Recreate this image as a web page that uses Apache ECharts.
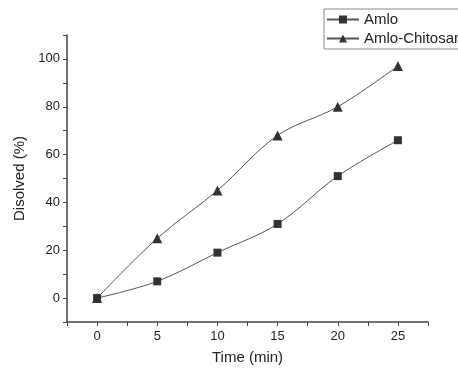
<!DOCTYPE html>
<html>
<head>
<meta charset="utf-8">
<script src="https://cdn.jsdelivr.net/npm/echarts@6/dist/echarts.min.js"></script>
<style>
  html, body { margin: 0; padding: 0; background: #fff; overflow: hidden; }
  /* chart is wider than the window so the legend gets cut at the edge like the original */
  #chart { width: 540px; height: 370px; }
</style>
</head>
<body>
<div id="chart"></div>
<script>
const times = [0, 5, 10, 15, 20, 25];
const amlo = [0, 7, 19, 31, 51, 66];
const amloChitosan = [0, 25, 45, 68, 80, 97];

const pairs = (xs, ys) => xs.map((x, i) => [x, ys[i]]);

const chart = echarts.init(document.getElementById("chart"));
const axisColor = "#444";
const font = "Liberation Sans, Arial, sans-serif";

chart.setOption({
  animation: false,
  backgroundColor: "#fff",
  textStyle: { fontFamily: font },
  grid: { left: 67, right: 112, top: 35, bottom: 44 },
  legend: {
    orient: "vertical",
    left: 324,
    top: 9,
    padding: [3, 8, 3, 2],
    itemGap: 4,
    itemWidth: 32,
    itemHeight: 10,
    borderColor: "#888",
    borderWidth: 1,
    textStyle: { fontSize: 15, color: "#222", fontFamily: font },
    data: ["Amlo", "Amlo-Chitosan"],
  },
  xAxis: {
    type: "value",
    min: -2.5,
    max: 27.5,
    interval: 2.5,
    name: "Time (min)",
    nameLocation: "middle",
    nameGap: 28,
    nameTextStyle: { fontSize: 15, color: "#222" },
    splitLine: { show: false },
    axisLine: { onZero: false, lineStyle: { color: axisColor, width: 1.5 } },
    axisTick: { length: 4, lineStyle: { color: axisColor } },
    axisLabel: {
      margin: 8,
      fontSize: 13,
      color: "#222",
      formatter: (v) => (v % 5 === 0 && v >= 0 && v <= 25 ? String(v) : ""),
    },
  },
  yAxis: {
    type: "value",
    min: -10,
    max: 110,
    interval: 10,
    name: "Disolved (%)",
    nameLocation: "middle",
    nameRotate: 90,
    nameGap: 40,
    nameTextStyle: { fontSize: 15, color: "#222" },
    splitLine: { show: false },
    axisLine: { show: true, onZero: false, lineStyle: { color: axisColor, width: 1.5 } },
    axisTick: { show: true, length: 4, lineStyle: { color: axisColor } },
    axisLabel: {
      margin: 7,
      fontSize: 13,
      color: "#222",
      formatter: (v) => (v % 20 === 0 && v >= 0 && v <= 100 ? String(v) : ""),
    },
  },
  series: [
    {
      name: "Amlo",
      type: "line",
      smooth: 0.35,
      data: pairs(times, amlo),
      symbol: "rect",
      symbolSize: 8,
      lineStyle: { color: "#555", width: 1 },
      itemStyle: { color: "#333" },
    },
    {
      name: "Amlo-Chitosan",
      type: "line",
      smooth: 0.35,
      data: pairs(times, amloChitosan),
      symbol: "triangle",
      symbolSize: 10,
      lineStyle: { color: "#555", width: 1 },
      itemStyle: { color: "#333" },
    },
  ],
});
</script>
</body>
</html>
